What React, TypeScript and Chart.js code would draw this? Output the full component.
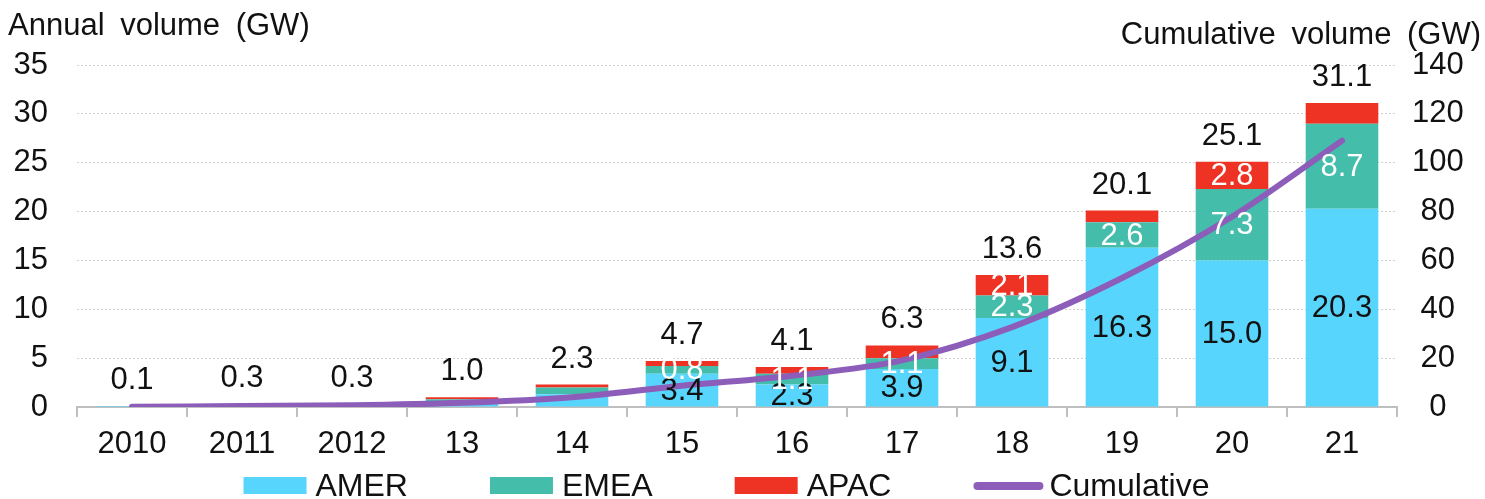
import React, { useEffect, useRef } from "react";
import { Chart, registerables } from "chart.js";

Chart.register(...registerables);

const categories = ["2010", "2011", "2012", "13", "14", "15", "16", "17", "18", "19", "20", "21"];
const amer = [0.1, 0.2, 0.2, 0.5, 1.3, 3.4, 2.3, 3.9, 9.1, 16.3, 15.0, 20.3];
const emea = [0.0, 0.1, 0.1, 0.3, 0.7, 0.8, 1.1, 1.1, 2.3, 2.6, 7.3, 8.7];
const apac = [0.0, 0.0, 0.0, 0.2, 0.3, 0.5, 0.7, 1.3, 2.1, 1.2, 2.8, 2.1];
const totals = [0.1, 0.3, 0.3, 1.0, 2.3, 4.7, 4.1, 6.3, 13.6, 20.1, 25.1, 31.1];
const cumulative = [0.1, 0.4, 0.7, 1.7, 4.0, 8.7, 12.8, 19.1, 32.7, 52.8, 77.9, 109.0];
const showAmerLabel = [false, false, false, false, false, true, true, true, true, true, true, true];
const showEmeaLabel = [false, false, false, false, false, true, true, true, true, true, true, true];
const showApacLabel = [false, false, false, false, false, false, false, false, true, false, true, false];
const leftTicks = [0, 5, 10, 15, 20, 25, 30, 35];
const rightTicks = [0, 20, 40, 60, 80, 100, 120, 140];

const FONT = "'Liberation Sans', Arial, sans-serif";
const C_AMER = "#58D5FD";
const C_EMEA = "#44BEAB";
const C_APAC = "#EE3325";
const C_LINE = "#8C5DB9";
const TEXT = "#111111";

const labelPlugin = {
  id: "labelPlugin",
  afterDatasetsDraw(chart: any) {
    const ctx = chart.ctx;
    ctx.save();
    ctx.font = `31px ${FONT}`;
    ctx.textAlign = "center";
    ctx.textBaseline = "middle";
    const specs = [
      { idx: 0, vals: amer, show: showAmerLabel, color: TEXT },
      { idx: 1, vals: emea, show: showEmeaLabel, color: "#ffffff" },
      { idx: 2, vals: apac, show: showApacLabel, color: "#ffffff" },
    ];
    specs.forEach((s) => {
      const meta = chart.getDatasetMeta(s.idx);
      meta.data.forEach((el: any, j: number) => {
        if (!s.show[j]) return;
        ctx.fillStyle = s.color;
        ctx.fillText(s.vals[j].toFixed(1), el.x, (el.y + el.base) / 2 + 1);
      });
    });
    const topMeta = chart.getDatasetMeta(2);
    ctx.fillStyle = TEXT;
    ctx.textBaseline = "alphabetic";
    topMeta.data.forEach((el: any, j: number) => {
      ctx.fillText(totals[j].toFixed(1), el.x, el.y - 17);
    });
    ctx.restore();
  },
};

const titlePlugin = {
  id: "titlePlugin",
  afterDraw(chart: any) {
    const ctx = chart.ctx;
    ctx.save();
    ctx.font = `31px ${FONT}`;
    ctx.fillStyle = TEXT;
    ctx.textBaseline = "alphabetic";
    (ctx as any).wordSpacing = "7px";
    ctx.textAlign = "left";
    ctx.fillText("Annual volume (GW)", 8, 35);
    ctx.textAlign = "right";
    ctx.fillText("Cumulative volume (GW)", 1481, 44);
    ctx.restore();
  },
};

const legendPlugin = {
  id: "legendPlugin",
  afterDraw(chart: any) {
    const ctx = chart.ctx;
    ctx.save();
    ctx.font = `32px ${FONT}`;
    ctx.textBaseline = "middle";
    ctx.textAlign = "left";
    const items = [
      { label: "AMER", color: C_AMER, type: "box" },
      { label: "EMEA", color: C_EMEA, type: "box" },
      { label: "APAC", color: C_APAC, type: "box" },
      { label: "Cumulative", color: C_LINE, type: "line" },
    ];
    const boxW = 63;
    const lineW = 70;
    const gapIn = 9;
    const gapOut = 82;
    const widths = items.map((it) => (it.type === "box" ? boxW : lineW) + gapIn + ctx.measureText(it.label).width);
    const total = widths.reduce((a, b) => a + b, 0) + gapOut * (items.length - 1);
    let x = 728 - total / 2;
    const yc = 486;
    items.forEach((it) => {
      if (it.type === "box") {
        ctx.fillStyle = it.color;
        ctx.fillRect(x, yc - 9, boxW, 17);
        x += boxW + gapIn;
      } else {
        ctx.strokeStyle = it.color;
        ctx.lineWidth = 8;
        ctx.lineCap = "round";
        ctx.beginPath();
        ctx.moveTo(x + 4, yc);
        ctx.lineTo(x + lineW - 4, yc);
        ctx.stroke();
        x += lineW + gapIn - 3;
      }
      ctx.fillStyle = TEXT;
      ctx.fillText(it.label, x, yc + 1);
      x += ctx.measureText(it.label).width + gapOut;
    });
    ctx.restore();
  },
};

export default function App() {
  const ref = useRef<HTMLCanvasElement>(null);
  useEffect(() => {
    if (!ref.current) return;
    const chart = new Chart(ref.current, {
      type: "bar",
      data: {
        labels: categories,
        datasets: [
          { type: "bar", label: "AMER", data: amer, backgroundColor: C_AMER, stack: "s", yAxisID: "y", order: 2 },
          { type: "bar", label: "EMEA", data: emea, backgroundColor: C_EMEA, stack: "s", yAxisID: "y", order: 2 },
          { type: "bar", label: "APAC", data: apac, backgroundColor: C_APAC, stack: "s", yAxisID: "y", order: 2 },
          {
            type: "line",
            label: "Cumulative",
            data: cumulative,
            borderColor: C_LINE,
            backgroundColor: C_LINE,
            borderWidth: 6,
            pointRadius: 0,
            cubicInterpolationMode: "monotone",
            borderCapStyle: "round",
            yAxisID: "y2",
            order: 0,
          } as any,
        ],
      },
      options: {
        responsive: false,
        animation: false,
        layout: { padding: { top: 65, bottom: 40, left: 0, right: 0 } },
        plugins: { legend: { display: false }, tooltip: { enabled: false }, title: { display: false } },
        datasets: { bar: { categoryPercentage: 1, barPercentage: 0.66 } },
        scales: {
          x: {
            stacked: true,
            grid: { drawOnChartArea: false, drawTicks: true, tickLength: 10, offset: true, color: "#BFBFBF", lineWidth: 2 },
            border: { display: true, color: "#BFBFBF", width: 2 },
            ticks: { color: TEXT, font: { family: FONT, size: 31 }, padding: 9, maxRotation: 0, autoSkip: false },
            afterFit: (s: any) => { s.height = 52; },
          },
          y: {
            stacked: true,
            position: "left",
            min: 0,
            max: 35,
            afterBuildTicks: (s: any) => { s.ticks = leftTicks.map((v) => ({ value: v })); },
            grid: { drawTicks: false, color: "#D0D0D0", lineWidth: 1 },
            border: { display: false, dash: [2, 2] },
            ticks: { color: TEXT, font: { family: FONT, size: 31 }, padding: 29 },
            afterFit: (s: any) => { s.width = 77; },
          },
          y2: {
            position: "right",
            min: 0,
            max: 140,
            afterBuildTicks: (s: any) => { s.ticks = rightTicks.map((v) => ({ value: v })); },
            grid: { drawOnChartArea: false, drawTicks: false },
            border: { display: false },
            ticks: { color: TEXT, font: { family: FONT, size: 31 }, padding: 15, crossAlign: "center" },
            afterFit: (s: any) => { s.width = 88; },
          },
        },
      },
      plugins: [labelPlugin, titlePlugin, legendPlugin],
    });
    return () => chart.destroy();
  }, []);
  return (
    <div style={{ position: "absolute", left: 0, top: 0, width: 1485, height: 499, background: "#fff" }}>
      <canvas ref={ref} width={1485} height={499} />
    </div>
  );
}
